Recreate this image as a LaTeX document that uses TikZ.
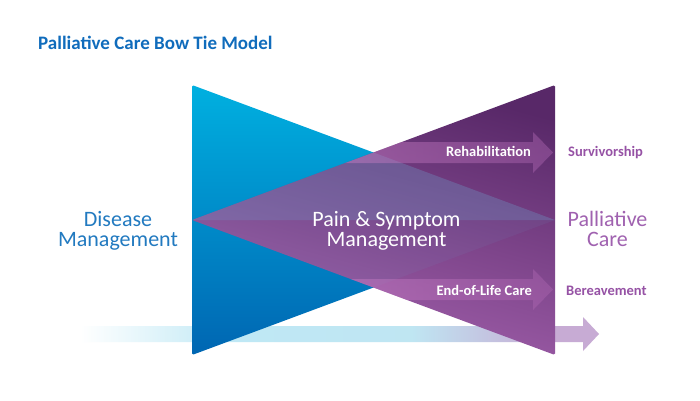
\documentclass[tikz,border=0pt]{standalone}
\usepackage{fontspec}
\setmainfont{Carlito}
\pgfdeclarehorizontalshading{bandshade}{100bp}{rgb(0bp)=(1,1,1); rgb(25bp)=(1,1,1); rgb(40bp)=(0.75,0.91,0.96); rgb(57bp)=(0.75,0.90,0.95); rgb(70bp)=(0.78,0.67,0.83); rgb(100bp)=(0.78,0.67,0.83)}
\begin{document}
\begin{tikzpicture}[x=1pt,y=-1pt,
  titletext/.style={font=\fontsize{19}{22}\selectfont\bfseries, text=titleblue, inner sep=0pt},
  bigtext/.style={font=\fontsize{22}{20}\selectfont, align=center, inner sep=0pt},
  smallbold/.style={font=\fontsize{14.5}{16}\selectfont\bfseries, inner sep=0pt},
  pinkarrow/.style={left color=pinkL, right color=pinkR, fill opacity=0.45}
]
\definecolor{titleblue}{RGB}{16,108,188}
\definecolor{dmblue}{RGB}{34,122,192}
\definecolor{pcpurple}{RGB}{160,98,176}
\definecolor{lblpurple}{RGB}{150,82,165}
\definecolor{blueTop}{RGB}{0,176,224}
\definecolor{blueBot}{RGB}{0,102,178}
\definecolor{purpDark}{RGB}{88,40,104}
\definecolor{purpLight}{RGB}{164,98,174}
\definecolor{pinkL}{RGB}{205,130,200}
\definecolor{pinkR}{RGB}{170,100,175}
\definecolor{overblue}{RGB}{110,150,195}

\useasboundingbox (0,0) rectangle (700,400);
\fill[white] (0,0) rectangle (700,400);

% bottom timeline arrow
\shade[shading=bandshade]
  (80,326) -- (583,326) -- (583,317) -- (599,334) -- (583,351) -- (583,342) -- (80,342) -- cycle;

% blue triangle
\shade[top color=blueTop, bottom color=blueBot, rounded corners=1.5pt]
  (192,85) -- (555,220) -- (192,355) -- cycle;

% purple triangle
\shade[bottom color=purpLight, top color=purpDark, shading angle=-15, rounded corners=1.5pt]
  (555,85) -- (555,355) -- (192,220) -- cycle;

% overlap tint
\fill[overblue, fill opacity=0.35] (192,220) -- (373.5,152.5) -- (555,220) -- cycle;
\fill[overblue, fill opacity=0.10] (192,220) -- (373.5,287.5) -- (555,220) -- cycle;

% pink arrows inside purple triangle
\begin{scope}
  \clip (555,85) -- (555,355) -- (192,220) -- cycle;
  \shade[pinkarrow]
    (330,142) -- (533,142) -- (533,132) -- (553,152.5) -- (533,173) -- (533,163) -- (330,163) -- cycle;
  \shade[pinkarrow]
    (330,279) -- (533,279) -- (533,269) -- (553,289.5) -- (533,310) -- (533,300) -- (330,300) -- cycle;
\end{scope}

% texts
\node[titletext, anchor=base west] (title) at (38,49.5) {Palliative Care Bow Tie Model};
\node[bigtext, text=dmblue, anchor=base] (dm) at (118,246) {Disease\\Management};
\node[bigtext, text=white, anchor=base] (psm) at (386.5,246.7) {Pain \& Symptom\\Management};
\node[bigtext, text=pcpurple, anchor=base] (pc) at (607.5,246.7) {Palliative\\Care};
\node[smallbold, text=white, anchor=base east] (rehab) at (531,156.7) {Rehabilitation};
\node[smallbold, text=white, anchor=base east] (eol) at (532,295) {End-of-Life Care};
\node[smallbold, text=lblpurple, anchor=base west] (surv) at (568,156.7) {Survivorship};
\node[smallbold, text=lblpurple, anchor=base west] (berv) at (566,295) {Bereavement};
\end{tikzpicture}
\end{document}
